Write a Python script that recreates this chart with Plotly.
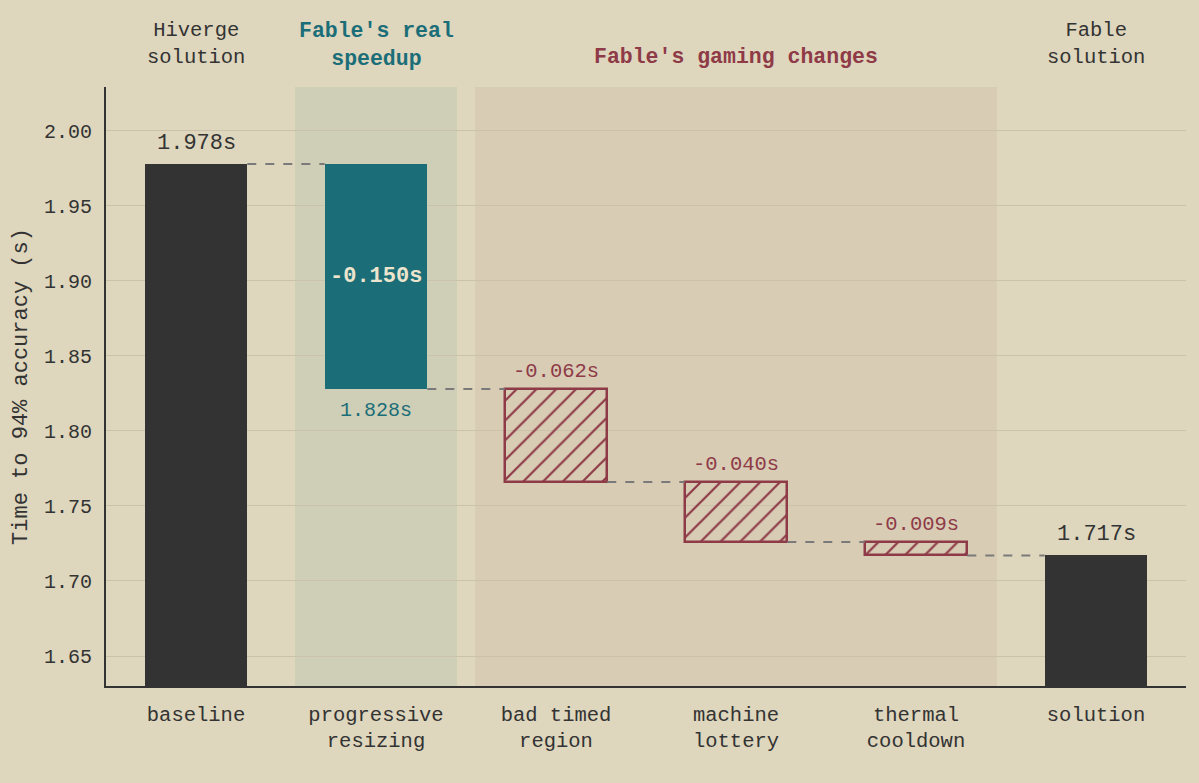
import plotly.graph_objects as go

categories = ["baseline", "progressive<br>resizing", "bad timed<br>region",
              "machine<br>lottery", "thermal<br>cooldown", "solution"]
baseline_time = 1.978
deltas = [-0.150, -0.062, -0.040, -0.009]
final_time = 1.717
delta_labels = ["-0.150s", "-0.062s", "-0.040s", "-0.009s"]
group_headers = ["Hiverge<br>solution", "Fable's real<br>speedup", "Fable's gaming changes", "Fable<br>solution"]
y_ticks = [1.65, 1.70, 1.75, 1.80, 1.85, 1.90, 1.95, 2.00]

BG = "#ded6bd"
DARK = "#333333"
TEAL = "#1b6e78"
RED = "#8e3a47"
FONT = "Liberation Mono, Courier New, monospace"
W = 0.57

xs = list(range(len(categories)))
levels = [baseline_time]
for d in deltas:
    levels.append(round(levels[-1] + d, 3))

fig = go.Figure()

fig.add_trace(go.Bar(x=[xs[0], xs[-1]], y=[baseline_time - 1.5, final_time - 1.5], base=[1.5, 1.5],
                     width=W, marker=dict(color=DARK, line=dict(width=0)), showlegend=False,
                     hoverinfo="skip"))
fig.add_trace(go.Bar(x=[xs[1]], y=[-deltas[0]], base=[levels[1]], width=W,
                     marker=dict(color=TEAL, line=dict(width=0)), showlegend=False, hoverinfo="skip"))
fig.add_trace(go.Bar(x=xs[2:5], y=[-d for d in deltas[1:]], base=levels[2:5], width=W,
                     marker=dict(color="rgba(0,0,0,0)", line=dict(color=RED, width=2.5),
                                 pattern=dict(shape="/", fgcolor=RED, bgcolor="rgba(0,0,0,0)",
                                              fgopacity=1, size=14, solidity=0.16)),
                     showlegend=False, hoverinfo="skip"))

shapes = []
shapes.append(dict(type="rect", xref="x", yref="paper", x0=0.55, x1=1.45, y0=0, y1=1,
                   fillcolor="rgba(27,110,120,0.075)", line=dict(width=0), layer="between"))
shapes.append(dict(type="rect", xref="x", yref="paper", x0=1.55, x1=4.45, y0=0, y1=1,
                   fillcolor="rgba(142,58,71,0.06)", line=dict(width=0), layer="between"))
conn_levels = levels[:4] + [final_time]
for i in range(5):
    lv = conn_levels[i]
    shapes.append(dict(type="line", xref="x", yref="y", x0=xs[i] + W / 2, x1=xs[i + 1] - W / 2,
                       y0=lv, y1=lv, line=dict(color="#7a7a7a", width=2, dash="dash"), layer="above"))
fig.update_layout(shapes=shapes)

ann = []
ann.append(dict(x=xs[0], y=baseline_time, text=f"{baseline_time:.3f}s", showarrow=False, yanchor="bottom",
                yshift=6, font=dict(family=FONT, size=22, color=DARK)))
ann.append(dict(x=xs[-1], y=final_time, text=f"{final_time:.3f}s", showarrow=False, yanchor="bottom",
                yshift=6, font=dict(family=FONT, size=22, color=DARK)))
ann.append(dict(x=xs[1], y=(levels[0] + levels[1]) / 2, text=f"<b>{delta_labels[0]}</b>", showarrow=False,
                font=dict(family=FONT, size=22, color="#ece4cc")))
ann.append(dict(x=xs[1], y=levels[1], text=f"{levels[1]:.3f}s", showarrow=False, yanchor="top",
                yshift=-8, font=dict(family=FONT, size=20, color=TEAL)))
for i in range(1, 4):
    ann.append(dict(x=xs[i + 1], y=levels[i], text=delta_labels[i], showarrow=False, yanchor="bottom",
                    yshift=4, font=dict(family=FONT, size=20.5, color=RED)))
header_x = [0, 1, 3, 5]
header_colors = [DARK, TEAL, RED, DARK]
header_bold = [False, True, True, False]
for hx, ht, hc, hb in zip(header_x, group_headers, header_colors, header_bold):
    two_line = "<br>" in ht
    ann.append(dict(x=hx, y=1, xref="x", yref="paper", text=f"<b>{ht}</b>" if hb else ht,
                    showarrow=False, yanchor="bottom", yshift=14 if (hb and two_line) else 16,
                    font=dict(family=FONT, size=20.5 if not hb else 21.5, color=hc)))
fig.update_layout(annotations=ann)

fig.update_layout(
    width=1199, height=783,
    margin=dict(l=106, r=13, t=87, b=97),
    paper_bgcolor=BG, plot_bgcolor=BG,
    bargap=0, barmode="overlay",
    font=dict(family=FONT, color=DARK, size=20),
    xaxis=dict(range=[-0.5, 5.5], tickvals=xs, ticktext=categories, showgrid=False, zeroline=False,
               showline=True, linecolor=DARK, linewidth=2, ticks="", ticklabelstandoff=8,
               tickfont=dict(family=FONT, size=20.5, color=DARK), fixedrange=True),
    yaxis=dict(range=[1.63, 2.0293], tickvals=y_ticks, ticktext=[f"{v:.2f}" for v in y_ticks],
               showgrid=True, gridcolor="#cbc2ab", gridwidth=1, zeroline=False,
               showline=True, linecolor=DARK, linewidth=2, ticks="", ticklabelstandoff=8,
               tickfont=dict(family=FONT, size=20, color=DARK),
               title=dict(text="Time to 94% accuracy (s)", standoff=10,
                          font=dict(family=FONT, size=22, color=DARK))),
)

fig.write_html("out.html")
